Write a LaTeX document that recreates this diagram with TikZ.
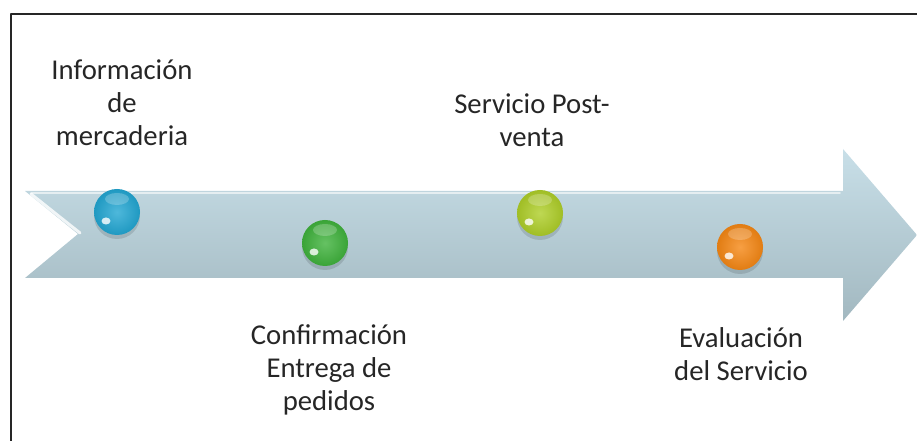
\documentclass[tikz,border=0pt]{standalone}
\usepackage{fontspec}
\setmainfont{Carlito}
\usetikzlibrary{positioning}
\definecolor{ArrowTop}{HTML}{C8DFE8}
\definecolor{ArrowBottom}{HTML}{A2B8C0}
\definecolor{TextGray}{HTML}{262626}
\definecolor{BallBlue}{HTML}{22A6D2}
\definecolor{BallGreen}{HTML}{3FB23C}
\definecolor{BallLime}{HTML}{AECE28}
\definecolor{BallOrange}{HTML}{F58714}

\begin{document}
\begin{tikzpicture}[x=1pt,y=1pt,line cap=round,line join=round,
  steptext/.style={text=TextGray,align=center,inner sep=0pt,
    font=\fontsize{28.7}{33}\selectfont},
  bead/.style={inner color=#1!80!white,outer color=#1!92!black,draw=none},
  gloss/.style={white,opacity=#1}]
  \useasboundingbox (0,0) rectangle (917,441);

  % frame, only top and left edges
  \draw[line width=2pt,black!85,line cap=butt] (11,0) -- (11,427) -- (917,427);

  % arrow
  \coordinate (A1) at (25,250);
  \coordinate (A2) at (843,250);
  \coordinate (A3) at (843,292);
  \coordinate (A4) at (917,206);
  \coordinate (A5) at (843,120);
  \coordinate (A6) at (843,163);
  \coordinate (A7) at (25,163);
  \coordinate (A8) at (78,207);
  \shade[top color=ArrowTop,bottom color=ArrowBottom]
    (A1) -- (A2) -- (A3) -- (A4) -- (A5) -- (A6) -- (A7) -- (A8) -- cycle;
  \draw[white,line width=3pt,opacity=.8] (31,247) -- (80,208);
  \draw[white,line width=1.5pt,opacity=.6] (31,248) -- (840,248);

  % beads
  \coordinate (B1) at (117,229);
  \coordinate (B2) at (325,198);
  \coordinate (B3) at (540,228);
  \coordinate (B4) at (740,194);
  \foreach \p/\c in {B1/BallBlue,B2/BallGreen,B3/BallLime,B4/BallOrange}{
    \fill[black,opacity=.12] ([yshift=-4]\p) circle (23);
    \shade[bead=\c] (\p) circle (23);
    \fill[gloss=.22] ([yshift=13]\p) ellipse (12 and 6);
    \fill[gloss=.8] ([xshift=-11,yshift=-9]\p) ellipse (4.5 and 3.5);
  }

  % labels
  \node[steptext] (info) at (122,338) {Información\\de\\mercaderia};
  \node[steptext] (conf) at (329,71) {Confirmación\\Entrega de\\pedidos};
  \node[steptext] (post) at (532,321) {Servicio Post-\\venta};
  \node[steptext] (eval) at (741,87) {Evaluación\\del Servicio};
\end{tikzpicture}
\end{document}
